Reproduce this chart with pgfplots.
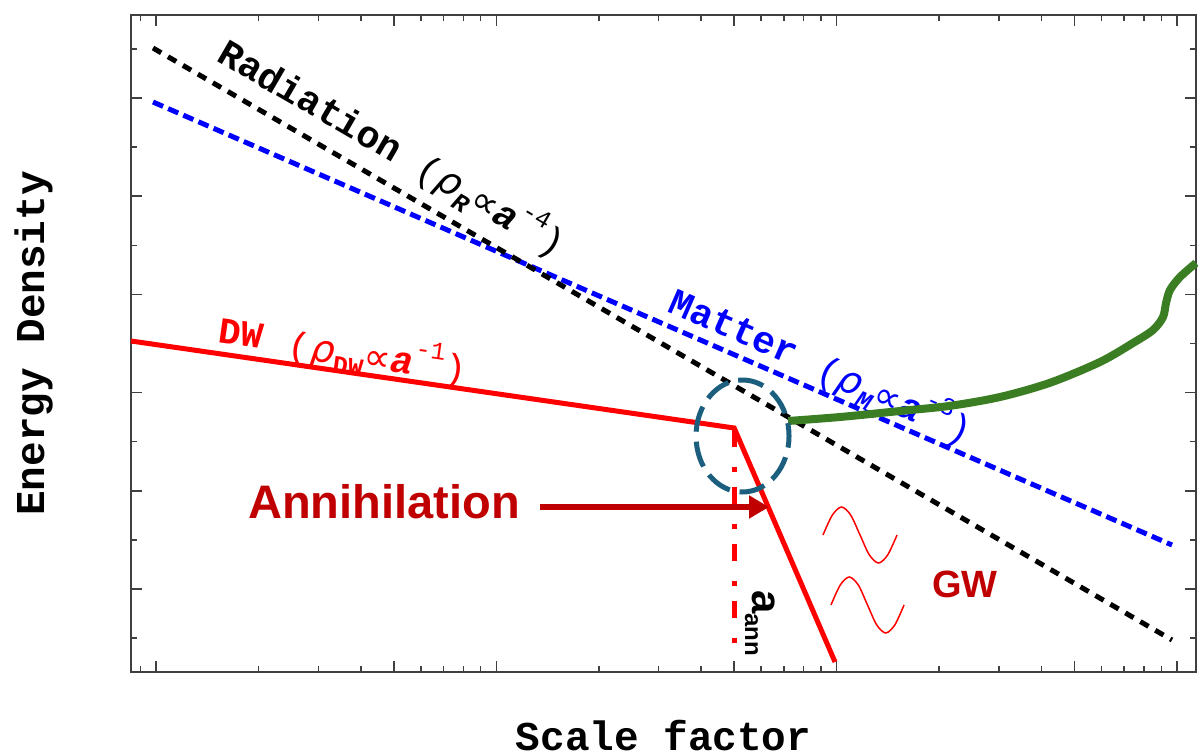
\documentclass[border=0pt]{standalone}
\usepackage{fontspec}
\setmainfont{Liberation Sans}
\newfontfamily\mono{Liberation Mono}
\newfontfamily\dejavu{DejaVu Sans}
\usepackage{pgfplots}
\pgfplotsset{compat=1.18}
\usetikzlibrary{arrows.meta,calc}
\definecolor{dwred}{RGB}{255,0,0}
\definecolor{annred}{RGB}{192,0,0}
\definecolor{circblue}{RGB}{27,94,126}
\definecolor{ggreen}{RGB}{58,125,34}
\definecolor{axgray}{RGB}{64,64,64}
% ( rho_sub propto a^sup )
\newcommand{\prop}[2]{{\mono(}{\dejavu\itshape ρ}\raisebox{-0.22em}{\fontsize{25}{25}\selectfont #1}{\dejavu ∝}{\mono\bfseries\itshape a}\raisebox{0.5em}{\fontsize{25}{25}\selectfont\mono #2}{\mono)}}
\begin{document}
\begin{tikzpicture}
\begin{axis}[
  scale only axis, width=1065pt, height=657pt,
  xmin=-0.0735, xmax=3.0561, ymin=0.1548, ymax=6.8452,
  xtick={0,0.69897,1,1.69897,2,2.69897,3},
  minor xtick={-0.04576,0.30103,0.47712,0.60206,0.77815,0.84510,0.90309,0.95424,1.30103,1.47712,1.60206,1.77815,1.84510,1.90309,1.95424,2.30103,2.47712,2.60206,2.77815,2.84510,2.90309,2.95424},
  ytick={1,2,3,4,5,6},
  minor ytick={0.5,1.5,2.5,3.5,4.5,5.5,6.5},
  xticklabels={}, yticklabels={},
  tick pos=both, tick align=inside,
  major tick length=11pt, minor tick length=6pt,
  tick style={axgray, line width=1.5pt},
  axis line style={axgray, line width=2pt},
  clip=false,
]
\coordinate (BL) at (rel axis cs:0,0);
\coordinate (TR) at (rel axis cs:1,1);

% Matter (blue) and Radiation (black)
\addplot[blue, line width=5pt, dash pattern=on 11pt off 5.5pt] coordinates {(-0.0088,5.959) (2.9856,1.448)};
\addplot[black, line width=5pt, dash pattern=on 9.5pt off 7.8pt] coordinates {(-0.0088,6.509) (2.9856,0.4807)};

% Domain walls
\addplot[dwred, line width=5pt, line join=miter] coordinates {(-0.0735,3.5255) (1.699,2.6395) (1.9953,0.2566)};
\addplot[dwred, line width=5pt, dash pattern=on 17pt off 20pt on 5pt off 15pt] coordinates {(1.699,2.6191) (1.699,0.3992)};

% GW waves
\addplot[red, line width=1.5pt, smooth] coordinates {(1.9600,1.5499) (1.9872,1.7515) (2.0144,1.8350) (2.0416,1.7515) (2.0688,1.5499) (2.0960,1.3483) (2.1231,1.2648) (2.1503,1.3483) (2.1775,1.5499)};
\addplot[red, line width=1.5pt, smooth] coordinates {(1.9835,0.8371) (2.0103,1.0387) (2.0372,1.1222) (2.0641,1.0387) (2.0908,0.8371) (2.1176,0.6354) (2.1444,0.5519) (2.1713,0.6354) (2.1981,0.8371)};

% labels
\node[rotate=-30.2, font=\mono\bfseries\fontsize{38}{40}\selectfont] at (axis cs:0.4555,5.9796) {Radiation};
\node[rotate=-30.2, font=\fontsize{38}{40}\selectfont] at (axis cs:0.9859,4.9104) {\prop{\mono\bfseries\itshape R}{-4}};
\node[rotate=-23.5, blue, font=\mono\bfseries\fontsize{38}{40}\selectfont] at (axis cs:1.6985,3.6680) {Matter};
\node[rotate=-23.5, blue, font=\fontsize{38}{40}\selectfont] at (axis cs:2.1716,2.9348) {\prop{\mono\bfseries\itshape M}{-3}};
\node[rotate=-8, dwred, font=\mono\bfseries\fontsize{37}{40}\selectfont] at (axis cs:0.2498,3.6018) {DW};
\node[rotate=-8, dwred, font=\fontsize{38}{40}\selectfont] at (axis cs:0.6509,3.3676) {\prop{\mono\bfseries DW}{-1}};

% green curve
\addplot[ggreen, line width=8pt, smooth, tension=0.5] coordinates {(1.8572,2.7108) (2.0100,2.7515) (2.1863,2.8126) (2.3332,2.865) (2.4802,2.9552) (2.6271,3.10) (2.7740,3.3116) (2.8710,3.5051) (2.9298,3.6375) (2.9592,3.7699) (2.9680,3.9124) (2.9797,4.0448) (3.0091,4.1772) (3.0561,4.3198)};

% annihilation circle
\draw[circblue, line width=5pt, dash pattern=on 26pt off 10pt, dash phase=13pt] (axis cs:1.7235,2.558) ellipse [x radius=46.5pt, y radius=56pt];

% arrow and texts
\draw[annred, line width=6pt, -{Triangle[length=20pt,width=22pt]}] (axis cs:1.1284,1.835) -- (axis cs:1.8013,1.835);
\node[annred, anchor=base, font=\bfseries\fontsize{47}{50}\selectfont] at (axis cs:0.6700,1.7230) {Annihilation};
\node[annred, anchor=base, font=\bfseries\fontsize{38}{40}\selectfont] at (axis cs:2.3773,0.9084) {GW};
\node[rotate=-90, anchor=base west, inner sep=0pt, font=\bfseries] at (axis cs:1.7514,0.9898) {\fontsize{42}{42}\selectfont a\raisebox{-7pt}{\fontsize{24}{24}\selectfont ann}};

% axis labels
\node[anchor=base, yshift=-78pt, font=\mono\bfseries\fontsize{41}{41}\selectfont] at (rel axis cs:0.5,0) {Scale factor};
\node[anchor=base, rotate=90, font=\mono\bfseries\fontsize{41}{41}\selectfont] at (axis cs:-0.3291,3.5) {Energy Density};
\end{axis}
\pgfresetboundingbox
\path[use as bounding box] ($(BL)+(-131pt,-82pt)$) rectangle ($(TR)+(2pt,15pt)$);
\end{tikzpicture}
\end{document}
